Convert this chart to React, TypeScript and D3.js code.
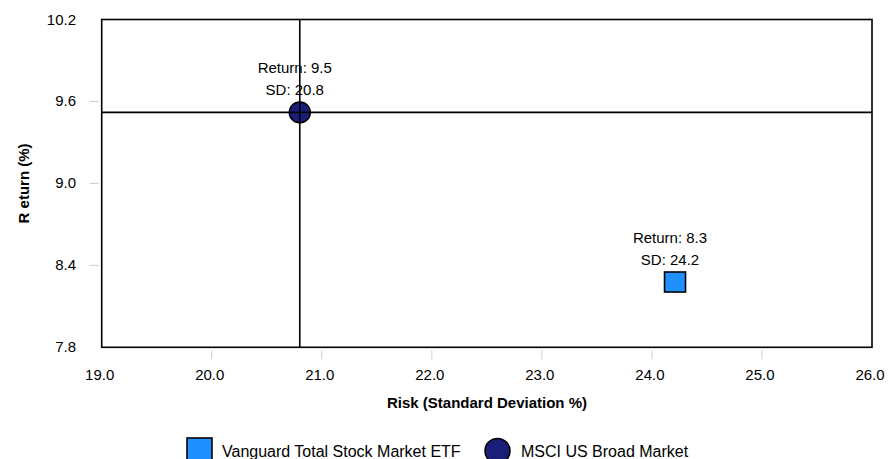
import React from "react";
import * as d3 from "d3";

const seriesNames = ["Vanguard Total Stock Market ETF", "MSCI US Broad Market"];
const sdValues = [24.21, 20.8];
const returnValues = [8.278, 9.52];
const sdLabels = ["24.2", "20.8"];
const returnLabels = ["8.3", "9.5"];
const xTicks = [19, 20, 21, 22, 23, 24, 25, 26];
const yTicks = [7.8, 8.4, 9.0, 9.6, 10.2];

const W = 888;
const H = 459;
const left = 101.7;
const right = 872;
const top = 19.5;
const bottom = 347.3;
const FONT = "Liberation Sans, Arial, sans-serif";
const SQ = "#1E90FF";
const NAVY = "#1B1E78";

export default function App() {
  const x = d3.scaleLinear().domain([19, 26]).range([left, right]);
  const y = d3.scaleLinear().domain([7.8, 10.2]).range([bottom, top]);
  const bench = 1;
  const bx = x(sdValues[bench]);
  const by = y(returnValues[bench]);
  return (
    <svg width={W} height={H} style={{ position: "absolute", left: 0, top: 0 }} fontFamily={FONT}>
      <rect x={0} y={0} width={W} height={H} fill="#fff" />
      {xTicks.map((t) => (
        <g key={"x" + t}>
          {t !== 19 && t !== 26 && (
            <line x1={x(t)} x2={x(t)} y1={bottom + 3} y2={bottom + 12} stroke="#ccc" strokeWidth={1} />
          )}
          <text x={x(t) - 2} y={380} textAnchor="middle" fontSize={15} fill="#000">
            {t.toFixed(1)}
          </text>
        </g>
      ))}
      {yTicks.map((t) => (
        <g key={"y" + t}>
          {t !== 7.8 && t !== 10.2 && (
            <line x1={left - 12} x2={left - 3} y1={y(t)} y2={y(t)} stroke="#ccc" strokeWidth={1} />
          )}
          <text x={76} y={y(t) + 5} textAnchor="end" fontSize={15} fill="#000">
            {t.toFixed(1)}
          </text>
        </g>
      ))}
      <rect x={left} y={top} width={right - left} height={bottom - top} fill="none" stroke="#000" strokeWidth={1.6} />
      <line x1={bx} x2={bx} y1={top} y2={bottom} stroke="#000" strokeWidth={1.6} />
      <line x1={left} x2={right} y1={by} y2={by} stroke="#000" strokeWidth={1.6} />
      <rect
        x={x(sdValues[0]) - 10.5}
        y={y(returnValues[0]) - 10}
        width={21}
        height={20}
        fill={SQ}
        stroke="#000"
        strokeWidth={1.6}
      />
      <circle cx={bx} cy={by} r={10.5} fill={NAVY} stroke="#000" strokeWidth={1.5} />
      <line x1={bx} x2={bx} y1={by - 10.5} y2={by + 10.5} stroke="#000" strokeWidth={1.6} />
      <line x1={bx - 10.5} x2={bx + 10.5} y1={by} y2={by} stroke="#000" strokeWidth={1.6} />
      {sdValues.map((s, i) => (
        <g key={"lab" + i}>
          <text x={x(s) - 5} y={y(returnValues[i]) - 39.5} textAnchor="middle" fontSize={15} fill="#000">
            {"Return: " + returnLabels[i]}
          </text>
          <text x={x(s) - 5} y={y(returnValues[i]) - 17.5} textAnchor="middle" fontSize={15} fill="#000">
            {"SD: " + sdLabels[i]}
          </text>
        </g>
      ))}
      <text x={487} y={408} textAnchor="middle" fontSize={15} fontWeight="bold" fill="#000">
        Risk (Standard Deviation %)
      </text>
      <text
        transform={`translate(29, ${(top + bottom) / 2}) rotate(-90)`}
        textAnchor="middle"
        fontSize={15}
        fontWeight="bold"
        fill="#000"
      >
        R eturn (%)
      </text>
      {/* legend */}
      <rect x={187} y={438} width={25} height={25} fill={SQ} stroke="#000" strokeWidth={1.6} />
      <text x={222} y={457} fontSize={16} fill="#000">
        {seriesNames[0]}
      </text>
      <circle cx={497.5} cy={451} r={12.5} fill={NAVY} stroke="#000" strokeWidth={1.6} />
      <text x={521} y={457} fontSize={16} fill="#000">
        {seriesNames[1]}
      </text>
    </svg>
  );
}
